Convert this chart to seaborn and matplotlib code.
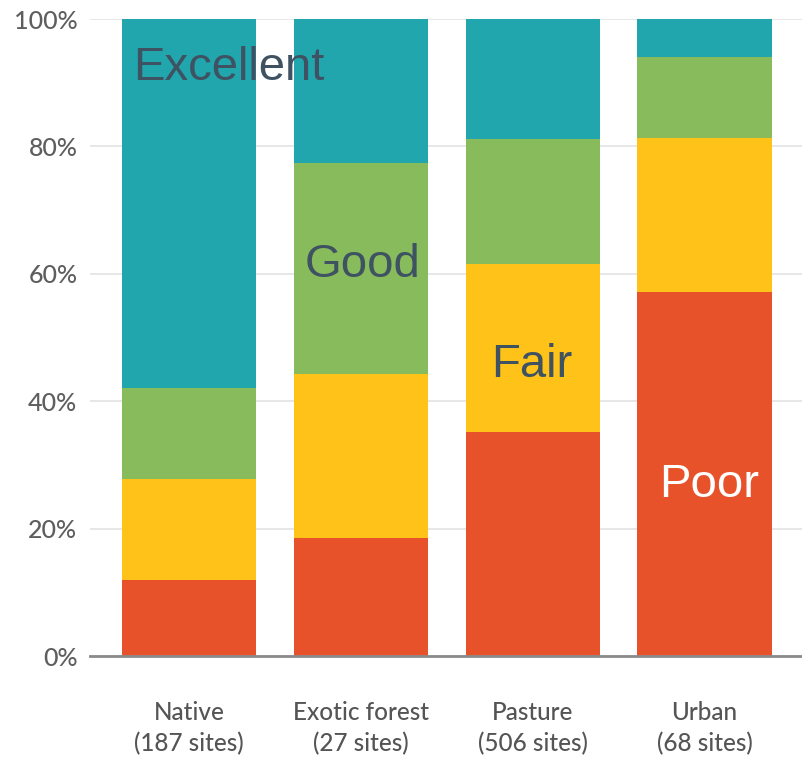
import matplotlib
matplotlib.use("agg")
import matplotlib.pyplot as plt
import seaborn as sns
import pandas as pd
import numpy as np

# data (percent of sites in each class)
land_use = ["Native\n(187 sites)", "Exotic forest\n(27 sites)", "Pasture\n(506 sites)", "Urban\n(68 sites)"]
classes = ["Poor", "Fair", "Good", "Excellent"]
poor = [11.9, 18.5, 35.2, 57.1]
fair = [15.9, 25.8, 26.3, 24.2]
good = [14.3, 33.1, 19.7, 12.7]
excellent = [57.9, 22.6, 18.8, 6.0]

colors = {"Poor": "#E8522A", "Fair": "#FEC219", "Good": "#88BB5C", "Excellent": "#21A6AD"}

df = pd.DataFrame({"land_use": land_use, "Poor": poor, "Fair": fair,
                   "Good": good, "Excellent": excellent})
cum = df[classes].cumsum(axis=1)

sns.set_style("white")
plt.rcParams["font.family"] = ["Lato", "DejaVu Sans"]

fig = plt.figure(figsize=(8.03, 7.62), dpi=100)
ax = fig.add_axes([0.112, 0.139, 0.888, 0.836])

# stacked bars: draw tallest cumulative first
for c in reversed(classes):
    sns.barplot(x=df["land_use"], y=cum[c], color=colors[c], width=0.78,
                saturation=1, linewidth=0, ax=ax, zorder=3)

ax.set_ylim(0, 100)
ax.set_xlim(-0.576, 3.573)
ax.set_yticks(np.arange(0, 101, 20))
ax.set_yticklabels([f"{v}%" for v in range(0, 101, 20)])
ax.set_xlabel("")
ax.set_ylabel("")
ax.grid(axis="y", color="#e3e3e3", lw=1.2, zorder=0)
ax.grid(axis="x", visible=False)
for s in ["top", "right", "left"]:
    ax.spines[s].set_visible(False)
ax.spines["bottom"].set_color("#8a8a8a")
ax.spines["bottom"].set_linewidth(2)
ax.spines["bottom"].set_zorder(4)
ax.tick_params(axis="y", length=0, pad=9, labelsize=18, labelcolor="#5e5e5e")
ax.tick_params(axis="x", length=0, pad=32, labelsize=17.5, labelcolor="#555555")
for lab in ax.get_xticklabels():
    lab.set_linespacing(1.45)
for lab in ax.get_yticklabels() + ax.get_xticklabels():
    lab.set_fontweight("medium")

# class labels inside bars
lab_font = ["Liberation Sans", "DejaVu Sans"]
ax.text(-0.326, 90.4, "Excellent", fontsize=34, color="#3E5262", family=lab_font,
        va="baseline", ha="left", zorder=5)
ax.text(1.01, 59.5, "Good", fontsize=34, color="#3E5262", family=lab_font,
        va="baseline", ha="center", zorder=5)
ax.text(1.756, 43.8, "Fair", fontsize=34, color="#3E5262", family=lab_font,
        va="baseline", ha="left", zorder=5)
ax.text(2.738, 25.0, "Poor", fontsize=34, color="white", family=lab_font,
        va="baseline", ha="left", zorder=5)

fig.savefig("out.png", dpi=100)
